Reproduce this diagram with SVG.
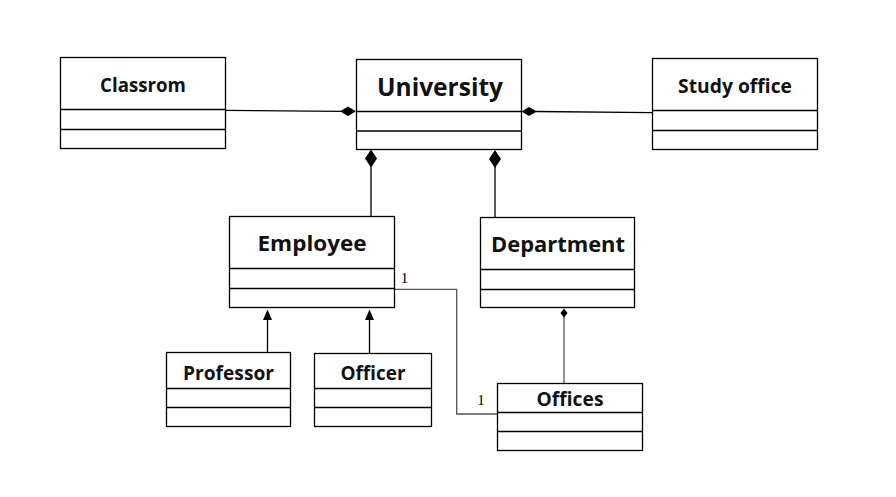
<svg xmlns="http://www.w3.org/2000/svg" width="896" height="497" viewBox="0 0 896 497">
<style>
.box{fill:#fff;stroke:#000;stroke-width:1.3}
.div{stroke:#000;stroke-width:1.3}
.t{font-family:"Open Sans","Noto Sans","DejaVu Sans",sans-serif;font-weight:bold;fill:#111;text-anchor:middle}
.m{font-family:"Liberation Serif",serif;font-size:15px;fill:#000;text-anchor:middle}
.c{fill:none;stroke:#000;stroke-width:1.3}
.g{fill:none;stroke:#555;stroke-width:1.3}
.d{fill:#000;stroke:none}
</style>
<rect width="896" height="497" fill="#fff"/>
<g id="connectors">
<line class="c" x1="225" y1="110.3" x2="341" y2="111.3"/>
<polygon class="d" points="340,111.3 348,106.5 356,111.3 348,116"/>
<line class="c" x1="536" y1="111.5" x2="652" y2="112.7"/>
<polygon class="d" points="521.5,111.5 529,107 537,111.5 529,116"/>
<line class="c" x1="371" y1="166" x2="371" y2="216"/>
<polygon class="d" points="371,149.5 377,158.5 371,167.5 365,158.5"/>
<line class="c" x1="495" y1="166" x2="495" y2="217"/>
<polygon class="d" points="495,150 501,159 495,168 489,159"/>
<line class="c" x1="267.5" y1="352" x2="267.5" y2="318"/>
<polygon class="d" points="267.5,309.5 272,320 263,320"/>
<line class="c" x1="369.5" y1="353" x2="369.5" y2="318"/>
<polygon class="d" points="369.5,309.5 374,320 365,320"/>
<polyline class="g" points="394,289.3 456.7,289.3 456.7,414 497,414"/>
<line class="g" x1="564" y1="316" x2="564" y2="383"/>
<polygon class="d" points="564,308.5 567.5,313 564,317.5 560.5,313"/>
<text class="m" x="404.5" y="283">1</text>
<text class="m" x="481" y="405">1</text>
</g>
<g id="classrom">
<rect class="box" x="60.5" y="57.5" width="165" height="91"/>
<line class="div" x1="60.5" y1="109.5" x2="225.5" y2="109.5"/>
<line class="div" x1="60.5" y1="129.5" x2="225.5" y2="129.5"/>
<text class="t" x="143" y="92" font-size="19" textLength="86" lengthAdjust="spacingAndGlyphs">Classrom</text>
</g>
<g id="university">
<rect class="box" x="356.5" y="59.5" width="165" height="90"/>
<line class="div" x1="356.5" y1="111.5" x2="521.5" y2="111.5"/>
<line class="div" x1="356.5" y1="131" x2="521.5" y2="131"/>
<text class="t" x="440" y="96" font-size="25" textLength="126" lengthAdjust="spacingAndGlyphs">University</text>
</g>
<g id="study-office">
<rect class="box" x="652.5" y="58.5" width="165" height="91"/>
<line class="div" x1="652.5" y1="110.5" x2="817.5" y2="110.5"/>
<line class="div" x1="652.5" y1="130.5" x2="817.5" y2="130.5"/>
<text class="t" x="735" y="93" font-size="19" textLength="114" lengthAdjust="spacingAndGlyphs">Study office</text>
</g>
<g id="employee">
<rect class="box" x="229.5" y="216.5" width="165" height="91"/>
<line class="div" x1="229.5" y1="268.5" x2="394.5" y2="268.5"/>
<line class="div" x1="229.5" y1="288.5" x2="394.5" y2="288.5"/>
<text class="t" x="312" y="251" font-size="22" textLength="109" lengthAdjust="spacingAndGlyphs">Employee</text>
</g>
<g id="department">
<rect class="box" x="480.5" y="217.5" width="154" height="90"/>
<line class="div" x1="480.5" y1="269.5" x2="634.5" y2="269.5"/>
<line class="div" x1="480.5" y1="289.5" x2="634.5" y2="289.5"/>
<text class="t" x="558" y="252" font-size="22" textLength="134" lengthAdjust="spacingAndGlyphs">Department</text>
</g>
<g id="professor">
<rect class="box" x="166.5" y="352.5" width="124" height="74"/>
<line class="div" x1="166.5" y1="388.5" x2="290.5" y2="388.5"/>
<line class="div" x1="166.5" y1="407.5" x2="290.5" y2="407.5"/>
<text class="t" x="228.5" y="380" font-size="19" textLength="91" lengthAdjust="spacingAndGlyphs">Professor</text>
</g>
<g id="officer">
<rect class="box" x="314.5" y="353.5" width="117" height="73"/>
<line class="div" x1="314.5" y1="388.5" x2="431.5" y2="388.5"/>
<line class="div" x1="314.5" y1="407.5" x2="431.5" y2="407.5"/>
<text class="t" x="373" y="380" font-size="19" textLength="65" lengthAdjust="spacingAndGlyphs">Officer</text>
</g>
<g id="offices">
<rect class="box" x="497.5" y="383.5" width="145" height="67"/>
<line class="div" x1="497.5" y1="412.5" x2="642.5" y2="412.5"/>
<line class="div" x1="497.5" y1="431.5" x2="642.5" y2="431.5"/>
<text class="t" x="570" y="406" font-size="19" textLength="67" lengthAdjust="spacingAndGlyphs">Offices</text>
</g>
</svg>
